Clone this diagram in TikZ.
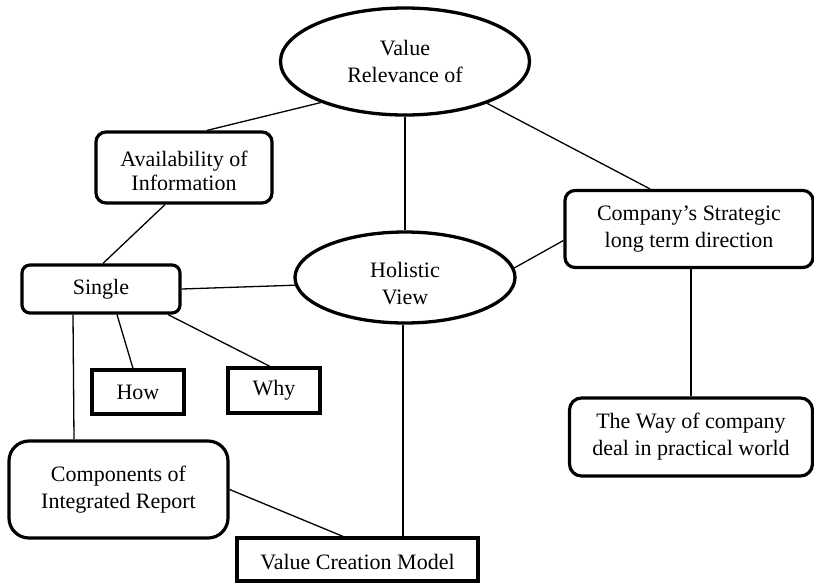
\documentclass[tikz,border=0pt]{standalone}
\usepackage{fontspec}
\setmainfont{Liberation Serif}
\usetikzlibrary{shapes.geometric}
\begin{document}
\begin{tikzpicture}[x=1pt,y=-1pt,
  txt/.style={inner sep=0pt, align=center, font=\fontsize{22}{27}\selectfont},
  ell/.style={ellipse, draw, line width=3.3pt, fill=white, inner sep=0pt, txt},
  rbox/.style={rectangle, draw, line width=3.2pt, fill=white, rounded corners=10pt, inner sep=0pt, txt},
  sbox/.style={rectangle, draw, line width=3.2pt, fill=white, inner sep=0pt, txt},
  conn/.style={line width=1.3pt}]
\useasboundingbox (0,0) rectangle (814,582);
% nodes
\node[ell, minimum width=249pt, minimum height=107pt] (top) at (405,61.5) {Value\\Relevance of};
\node[ell, minimum width=220pt, minimum height=91pt] (hol) at (405,277.5) {};
\node[txt] (holt) at (405,283.5) {Holistic\\View};
\node[rbox, minimum width=176pt, minimum height=71pt] (avail) at (184,167.5) {};
\begin{scope}
  \clip (96,132) rectangle (272,189.5);
  \node[txt, anchor=base] (availa) at (184,166) {Availability of};
  \node[txt, anchor=base] (availb) at (184,190.5) {Information};
\end{scope}
\node[rbox, rounded corners=8pt, minimum width=158pt, minimum height=48pt] (sing) at (101,289) {Single};
\node[sbox, minimum width=92pt, minimum height=44pt] (how) at (138,392) {How};
\node[sbox, minimum width=92pt, minimum height=45pt] (why) at (274,390.5) {Why};
\node[rbox, rounded corners=20pt, minimum width=219pt, minimum height=97pt] (compo) at (118.5,489.5) {Components of\\Integrated Report};
\node[sbox, minimum width=241pt, minimum height=43pt] (vcm) at (357.5,559.5) {};
\node[txt] (vcmt) at (357.5,562) {Value Creation Model};
\node[rbox, minimum width=248pt, minimum height=77pt] (comp) at (689,229) {Company’s Strategic\\long term direction};
\node[rbox, rounded corners=12pt, minimum width=243pt, minimum height=78pt] (way) at (691,437) {The Way of company\\deal in practical world};
% connectors
\draw[conn] (top.206) -- ([xshift=23pt]avail.north);
\draw[conn] (top.333) -- ([xshift=-39pt]comp.north);
\draw[conn] (top.south) -- (hol.north);
\draw[conn] ([xshift=-19pt]avail.south) -- ([xshift=2pt]sing.north);
\draw[conn] (sing.east) -- (hol.184);
\draw[conn] (hol.5.6) -- ([yshift=-11.5pt]comp.west);
\draw[conn] ([xshift=16pt]sing.south) -- ([xshift=-5pt]how.north);
\draw[conn] ([xshift=67pt]sing.south) -- ([xshift=-4pt]why.north);
\draw[conn] ([xshift=-28pt]sing.south) -- ([xshift=-44.5pt]compo.north);
\draw[conn] (compo.east) -- ([xshift=-14.5pt]vcm.north);
\draw[conn] ([xshift=-2pt]hol.south) -- ([xshift=45.5pt]vcm.north);
\draw[conn] ([xshift=2pt]comp.south) -- (way.north);
\end{tikzpicture}
\end{document}
